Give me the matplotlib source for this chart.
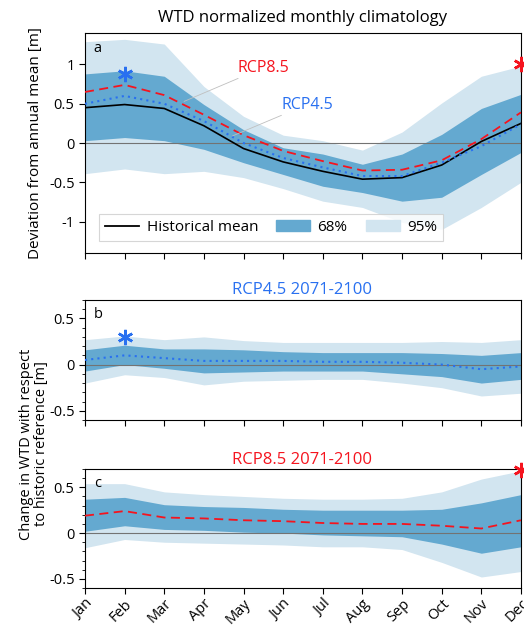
import matplotlib
matplotlib.use("Agg")
import matplotlib.pyplot as plt
from matplotlib.lines import Line2D
from matplotlib.patches import Patch
from matplotlib.ticker import MultipleLocator, FuncFormatter

plt.rcParams['font.family'] = ['Open Sans', 'DejaVu Sans']
plt.rcParams['axes.unicode_minus'] = False

months = ['Jan', 'Feb', 'Mar', 'Apr', 'May', 'Jun', 'Jul', 'Aug', 'Sep', 'Oct', 'Nov', 'Dec']
x = list(range(1, 13))

# panel a: monthly climatology
hist_mean = [0.45, 0.49, 0.44, 0.22, -0.07, -0.24, -0.36, -0.46, -0.44, -0.28, 0.02, 0.25]
rcp45_a = [0.50, 0.60, 0.50, 0.28, 0.00, -0.19, -0.31, -0.42, -0.42, -0.25, -0.04, 0.24]
rcp85_a = [0.65, 0.74, 0.61, 0.36, 0.10, -0.10, -0.23, -0.35, -0.34, -0.22, 0.05, 0.39]
a68_hi = [0.88, 0.92, 0.85, 0.49, 0.17, -0.06, -0.14, -0.27, -0.14, 0.11, 0.44, 0.62]
a68_lo = [0.03, 0.07, 0.03, -0.08, -0.25, -0.40, -0.55, -0.63, -0.74, -0.69, -0.40, -0.12]
a95_hi = [1.29, 1.32, 1.26, 0.72, 0.34, 0.10, 0.03, -0.09, 0.14, 0.51, 0.85, 0.98]
a95_lo = [-0.39, -0.33, -0.39, -0.36, -0.44, -0.58, -0.74, -0.82, -1.01, -1.10, -0.82, -0.50]

# panel b: RCP4.5 change
rcp45_b = [0.05, 0.10, 0.07, 0.04, 0.04, 0.04, 0.03, 0.03, 0.02, 0.00, -0.05, -0.02]
b68_hi = [0.16, 0.21, 0.17, 0.17, 0.16, 0.14, 0.13, 0.13, 0.13, 0.12, 0.10, 0.13]
b68_lo = [-0.07, 0.00, -0.04, -0.09, -0.08, -0.07, -0.07, -0.07, -0.10, -0.13, -0.20, -0.16]
b95_hi = [0.27, 0.31, 0.27, 0.30, 0.26, 0.24, 0.24, 0.24, 0.24, 0.25, 0.24, 0.27]
b95_lo = [-0.20, -0.11, -0.14, -0.22, -0.18, -0.17, -0.16, -0.16, -0.20, -0.25, -0.34, -0.31]

# panel c: RCP8.5 change
rcp85_c = [0.19, 0.24, 0.17, 0.16, 0.14, 0.13, 0.11, 0.10, 0.10, 0.08, 0.05, 0.14]
c68_hi = [0.37, 0.39, 0.31, 0.29, 0.28, 0.26, 0.25, 0.25, 0.25, 0.26, 0.33, 0.42]
c68_lo = [0.02, 0.08, 0.04, 0.03, 0.01, 0.00, -0.02, -0.03, -0.04, -0.12, -0.22, -0.15]
c95_hi = [0.54, 0.54, 0.45, 0.42, 0.40, 0.38, 0.37, 0.37, 0.38, 0.45, 0.59, 0.68]
c95_lo = [-0.16, -0.07, -0.10, -0.11, -0.12, -0.13, -0.15, -0.15, -0.18, -0.32, -0.48, -0.42]

# significance markers (month, value)
sig45_a = (2, 0.88)
sig85_a = (12, 1.01)
sig45_b = (2, 0.30)
sig85_c = (12, 0.69)

DARK = '#64a9d0'
LIGHT = '#d2e5f0'
BLUE = '#2970f0'
RED = '#f5141e'

fig = plt.figure(figsize=(5.24, 6.26), dpi=100)
ax_a = fig.add_axes([0.1622, 0.5958, 0.832, 0.3514])
ax_b = fig.add_axes([0.1622, 0.3291, 0.832, 0.1917])
ax_c = fig.add_axes([0.1622, 0.0607, 0.832, 0.1901])

fmt = FuncFormatter(lambda v, p: f'{v:g}')


def style(ax, ylim, minor):
    ax.set_xlim(1, 12)
    ax.set_ylim(*ylim)
    ax.set_xticks(x)
    ax.yaxis.set_major_locator(MultipleLocator(0.5))
    ax.yaxis.set_major_formatter(fmt)
    if minor:
        ax.yaxis.set_minor_locator(MultipleLocator(0.1))
    ax.tick_params(direction='out', labelsize=10.5, length=4, width=0.8)
    ax.tick_params(which='minor', direction='out', length=2.5, width=0.6)
    ax.axhline(0, color='0.45', lw=0.8, zorder=2)
    for s in ax.spines.values():
        s.set_linewidth(0.8)


def bands(ax, lo95, hi95, lo68, hi68):
    ax.fill_between(x, lo95, hi95, color=LIGHT, lw=0, zorder=1)
    ax.fill_between(x, lo68, hi68, color=DARK, lw=0, zorder=1)


# panel a
bands(ax_a, a95_lo, a95_hi, a68_lo, a68_hi)
ax_a.plot(x, hist_mean, color='black', lw=1.2, zorder=3)
ax_a.plot(x, rcp45_a, color=BLUE, lw=1.5, ls=(0, (1, 2)), zorder=3)
ax_a.plot(x, rcp85_a, color=RED, lw=1.3, ls=(0, (5, 3)), zorder=3)
ax_a.plot(*sig45_a, marker=(6, 2, 0), color=BLUE, ms=11, mew=1.8, clip_on=False, zorder=4)
ax_a.plot(*sig85_a, marker=(6, 2, 0), color=RED, ms=11, mew=1.8, clip_on=False, zorder=4)
style(ax_a, (-1.4, 1.4), False)
ax_a.set_xticklabels([])
ax_a.annotate('RCP8.5', xy=(3.5, 0.53), xytext=(4.85, 0.96), color=RED, fontsize=11.5,
              va='center', ha='left',
              arrowprops=dict(arrowstyle='-', color='0.75', lw=0.6, shrinkA=0, shrinkB=0))
ax_a.annotate('RCP4.5', xy=(4.72, 0.09), xytext=(5.95, 0.49), color=BLUE, fontsize=11.5,
              va='center', ha='left',
              arrowprops=dict(arrowstyle='-', color='0.75', lw=0.6, shrinkA=0, shrinkB=0))
ax_a.text(0.02, 0.965, 'a', transform=ax_a.transAxes, ha='left', va='top', fontsize=10.5)
handles = [Line2D([], [], color='black', lw=1.3), Patch(color=DARK), Patch(color=LIGHT)]
leg = ax_a.legend(handles, ['Historical mean', '68%', '95%'], ncol=3, loc='lower left',
                  bbox_to_anchor=(0.015, 0.02), fontsize=11, fancybox=False,
                  edgecolor='0.8', handlelength=2.2, columnspacing=1.2, handletextpad=0.5,
                  borderpad=0.4)
leg.get_frame().set_linewidth(0.8)
ax_a.set_ylabel('Deviation from annual mean [m]', fontsize=11)

# panel b
bands(ax_b, b95_lo, b95_hi, b68_lo, b68_hi)
ax_b.plot(x, rcp45_b, color=BLUE, lw=1.5, ls=(0, (1, 2)), zorder=3)
ax_b.plot(*sig45_b, marker=(6, 2, 0), color=BLUE, ms=11, mew=1.8, clip_on=False, zorder=4)
style(ax_b, (-0.6, 0.7), True)
ax_b.set_xticklabels([])
ax_b.text(0.02, 0.94, 'b', transform=ax_b.transAxes, ha='left', va='top', fontsize=10.5)

# panel c
bands(ax_c, c95_lo, c95_hi, c68_lo, c68_hi)
ax_c.plot(x, rcp85_c, color=RED, lw=1.3, ls=(0, (5, 3)), zorder=3)
ax_c.plot(*sig85_c, marker=(6, 2, 0), color=RED, ms=11, mew=1.8, clip_on=False, zorder=4)
style(ax_c, (-0.6, 0.7), True)
ax_c.set_xticklabels(months, rotation=45, ha='right', rotation_mode='anchor', fontsize=10.5)
ax_c.tick_params(axis='x', pad=2)
ax_c.text(0.02, 0.94, 'c', transform=ax_c.transAxes, ha='left', va='top', fontsize=10.5)

fig.text(0.577, 1 - 18 / 626, 'WTD normalized monthly climatology', ha='center', va='center', fontsize=12)
fig.text(0.577, 1 - 290 / 626, 'RCP4.5 2071-2100', ha='center', va='center', fontsize=12, color=BLUE)
fig.text(0.577, 1 - 460 / 626, 'RCP8.5 2071-2100', ha='center', va='center', fontsize=12, color=RED)
fig.text(34 / 524, 1 - 444 / 626, 'Change in WTD with respect\nto historic reference [m]',
         rotation=90, ha='center', va='center', fontsize=10.5, linespacing=1.05)

fig.savefig('out.png', dpi=100)
